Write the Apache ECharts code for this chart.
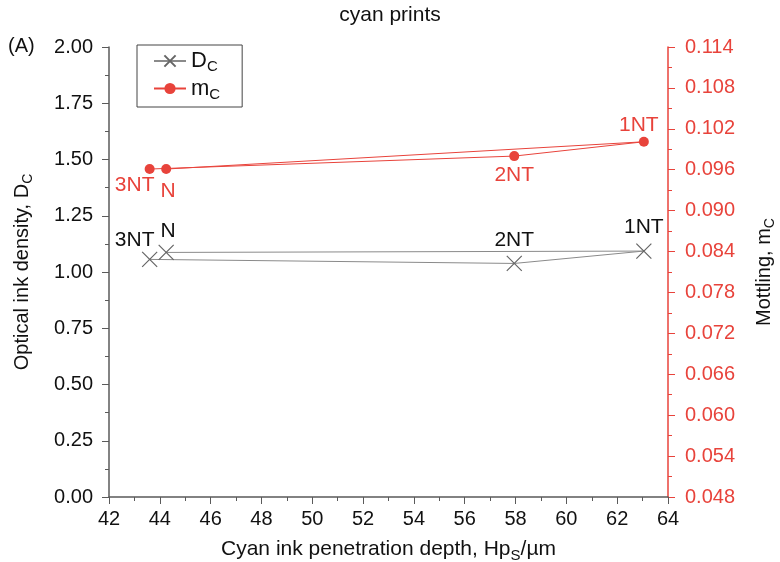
<!DOCTYPE html>
<html>
<head>
<meta charset="utf-8">
<script src="https://cdn.jsdelivr.net/npm/echarts@6/dist/echarts.min.js"></script>
<style>
  html, body { margin: 0; padding: 0; background: #fff; }
  #chart { width: 780px; height: 562px; }
</style>
</head>
<body>
<div id="chart"></div>
<script>
// sample order follows the drawn loop: N -> 1NT -> 2NT -> 3NT
var names = ['N', '1NT', '2NT', '3NT'];
var depth = [44.25, 63.05, 57.95, 43.6];       // Hp_S / µm
var density = [1.087, 1.093, 1.038, 1.056];    // D_C
var mottling = [0.0961, 0.1001, 0.0980, 0.0961]; // m_C

var xTicks = { min: 42, max: 64, step: 2 };
var dTicks = { min: 0, max: 2, step: 0.25 };
var mTicks = { min: 0.048, max: 0.114, step: 0.006 };

var gray = '#8a8a8a';
var red = '#e8433b';
var axisGray = '#5a5a5a';
var font = 'Liberation Sans, Arial, sans-serif';

// label placement around each marker
var dLabelOff = { 'N': [2, 0], '1NT': [0, 0], '2NT': [0, 0], '3NT': [-15, 0] };
var dLabelDist = { 'N': 3, '1NT': 5, '2NT': 5, '3NT': 1 };
var mLabelOff = { 'N': [2, 0], '1NT': [-5, 0], '2NT': [0, 0], '3NT': [-15, 0] };
var mLabelPos = { 'N': 'bottom', '1NT': 'top', '2NT': 'bottom', '3NT': 'bottom' };
var mLabelDist = { 'N': 7, '1NT': 1, '2NT': 4, '3NT': 1 };

var crossPath = 'path://M0,0L10,10M10,0L0,10';

function rich(size, sub) {
    return {
        b: { fontSize: size, color: '#111', fontFamily: font },
        s: { fontSize: sub, color: '#111', fontFamily: font, padding: [Math.round(sub * 0.8), 0, 0, 0] }
    };
}

function dData() {
    return names.map(function (n, i) {
        return {
            value: [depth[i], density[i]],
            label: { show: true, position: 'top', formatter: n, offset: dLabelOff[n],
                     color: '#111', fontSize: 21, fontFamily: font, distance: dLabelDist[n] }
        };
    });
}
function mData() {
    return names.map(function (n, i) {
        return {
            value: [depth[i], mottling[i]],
            label: { show: true, position: mLabelPos[n], formatter: n, offset: mLabelOff[n],
                     color: red, fontSize: 21, fontFamily: font, distance: mLabelDist[n] }
        };
    });
}

var chart = echarts.init(document.getElementById('chart'));
var option = {
    animation: false,
    textStyle: { fontFamily: font },
    title: {
        text: 'cyan prints', left: 'center', top: 0,
        textStyle: { fontSize: 21, fontWeight: 'normal', color: '#111', fontFamily: font }
    },
    graphic: [{
        type: 'text', left: 8, top: 36,
        style: { text: '(A)', fontSize: 20, fill: '#111', fontFamily: font }
    }],
    legend: {
        orient: 'vertical', left: 137, top: 45,
        borderColor: '#444', borderWidth: 1, borderRadius: 0,
        padding: [5, 22, 5, 16], itemGap: 3, itemWidth: 32, itemHeight: 14,
        textStyle: { fontSize: 21, color: '#111', fontFamily: font, rich: rich(22, 15) },
        formatter: function (n) {
            return n === 'D_C' ? '{b|D}{s|C}' : '{b|m}{s|C}';
        },
        data: ['D_C', 'm_C']
    },
    grid: { left: 109, right: 112, top: 47, bottom: 65, outerBoundsMode: 'none', containLabel: false },
    xAxis: {
        type: 'value', min: xTicks.min, max: xTicks.max, interval: xTicks.step,
        name: '{b|Cyan ink penetration depth, Hp}{s|S}{b|/µm}',
        nameLocation: 'middle', nameGap: 39,
        nameTextStyle: { fontSize: 21, color: '#111', fontFamily: font, rich: rich(21, 15) },
        axisLine: { lineStyle: { color: axisGray, width: 1.5 } },
        axisTick: { inside: false, length: 7, lineStyle: { color: axisGray } },
        minorTick: { show: true, splitNumber: 2, length: 4, lineStyle: { color: axisGray } },
        axisLabel: { fontSize: 20, color: '#111', margin: 12, fontFamily: font },
        splitLine: { show: false }
    },
    yAxis: [{
        type: 'value', min: dTicks.min, max: dTicks.max, interval: dTicks.step,
        position: 'left',
        name: '{b|Optical ink density, D}{s|C}',
        nameLocation: 'middle', nameGap: 74, nameRotate: 90,
        nameTextStyle: { fontSize: 20, color: '#111', fontFamily: font, rich: rich(20, 14) },
        axisLine: { show: true, lineStyle: { color: axisGray, width: 1.5 } },
        axisTick: { show: true, inside: false, length: 7, lineStyle: { color: axisGray } },
        minorTick: { show: true, splitNumber: 2, length: 4, lineStyle: { color: axisGray } },
        axisLabel: {
            fontSize: 20, color: '#111', margin: 16, fontFamily: font,
            formatter: function (v) { return v.toFixed(2); }
        },
        splitLine: { show: false }
    }, {
        type: 'value', min: mTicks.min, max: mTicks.max, interval: mTicks.step,
        position: 'right',
        name: '{b|Mottling, m}{s|C}',
        nameLocation: 'middle', nameGap: 84, nameRotate: 90,
        nameTextStyle: { fontSize: 20, color: '#111', fontFamily: font, rich: rich(20, 14) },
        axisLine: { show: true, lineStyle: { color: red, width: 1.5 } },
        axisTick: { show: true, inside: false, length: 7, lineStyle: { color: red } },
        minorTick: { show: true, splitNumber: 2, length: 4, lineStyle: { color: red } },
        axisLabel: {
            fontSize: 20, color: red, margin: 17, fontFamily: font,
            formatter: function (v) { return v.toFixed(3); }
        },
        splitLine: { show: false }
    }],
    series: [{
        name: 'D_C', type: 'line', yAxisIndex: 0,
        data: dData(),
        symbol: crossPath, symbolSize: 15,
        itemStyle: { color: 'rgba(0,0,0,0)', borderColor: '#666', borderWidth: 1.2 },
        lineStyle: { color: gray, width: 1 },
        z: 3
    }, {
        name: 'm_C', type: 'line', yAxisIndex: 1,
        data: mData(),
        symbol: 'circle', symbolSize: 10,
        itemStyle: { color: red, borderWidth: 0 },
        lineStyle: { color: red, width: 1 },
        z: 4
    }]
};
chart.setOption(option);
</script>
</body>
</html>
